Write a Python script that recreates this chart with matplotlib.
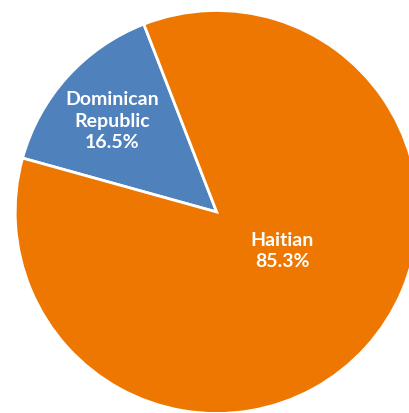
import matplotlib
matplotlib.use("Agg")
import matplotlib.pyplot as plt

# Data
categories = ["Dominican\nRepublic", "Haitian"]
label_pct = [16.5, 85.3]          # percentages printed on the chart
slice_share = [14.8, 85.2]        # slice sizes as drawn (measured from angles)
colors = ["#4F81BD", "#ED7700"]

W, H = 409, 414
fig = plt.figure(figsize=(W / 100, H / 100), dpi=100)
ax = fig.add_axes([0, 0, 1, 1])

cx, cy, r = 216.7, H - 213.0, 201.5
wedges, _ = ax.pie(slice_share, colors=colors, startangle=111.2, counterclock=True,
                   center=(cx, cy), radius=r, frame=True,
                   wedgeprops=dict(edgecolor="white", linewidth=2))
ax.set_xlim(0, W)
ax.set_ylim(0, H)
ax.set_aspect("equal")
ax.axis("off")

text_pos = [(112, H - 121), (282, H - 251)]
for cat, pct, (tx, ty) in zip(categories, label_pct, text_pos):
    ax.text(tx, ty, f"{cat}\n{pct:.1f}%", ha="center", va="center", color="white",
            fontsize=14, fontweight="bold", family=["Lato", "DejaVu Sans"],
            linespacing=1.3)

fig.savefig("out.png", dpi=100)
